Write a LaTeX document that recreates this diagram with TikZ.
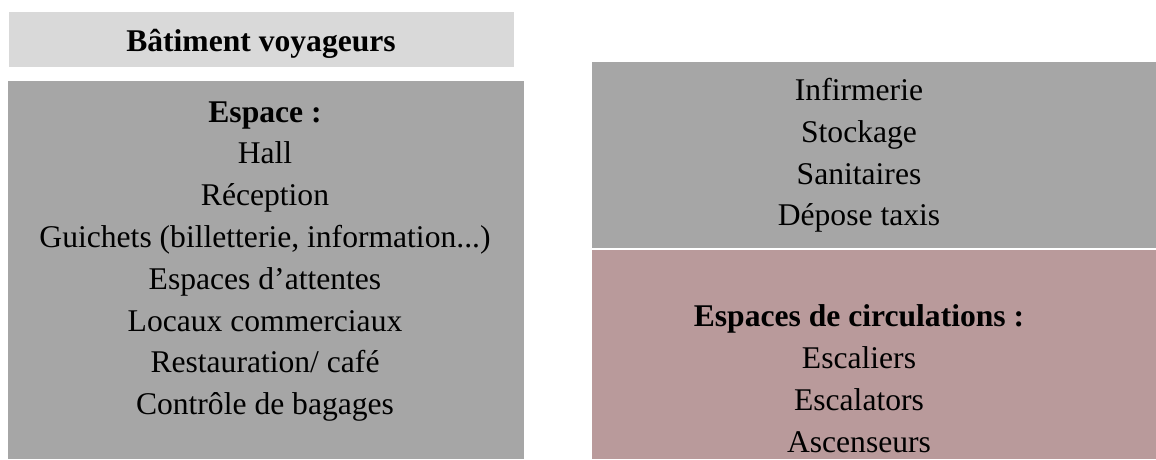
\documentclass[tikz,border=0pt]{standalone}
\usepackage{fontspec}
\setmainfont{Liberation Serif}
\definecolor{titlegray}{HTML}{D9D9D9}
\definecolor{boxgray}{HTML}{A6A6A6}
\definecolor{boxpink}{HTML}{B99A9B}
\tikzset{
  line/.style={anchor=base, inner sep=0pt, font=\fontsize{31.6}{37}\selectfont},
  head/.style={line, font=\fontsize{31.6}{37}\selectfont\bfseries},
}
\begin{document}
\begin{tikzpicture}[x=1pt,y=-1pt]
\useasboundingbox (0,0) rectangle (1156,459);
\begin{scope}
\clip (0,0) rectangle (1156,459);
% boxes
\fill[titlegray] (9,12) rectangle (514,67);
\fill[boxgray] (8,81) rectangle (524,459);
\fill[boxgray] (592,62) rectangle (1156,248);
\fill[boxpink] (592,250) rectangle (1156,459);
% title
\node[head] (title) at (261,51) {Bâtiment voyageurs};
% left box
\node[head] (l0) at (265,122) {Espace :};
\node[line] (l1) at (265,163.8) {Hall};
\node[line] (l2) at (265,205.6) {Réception};
\node[line] (l3) at (265,247.4) {Guichets (billetterie, information...)};
\node[line] (l4) at (265,289.2) {Espaces d’attentes};
\node[line] (l5) at (265,331) {Locaux commerciaux};
\node[line] (l6) at (265,372.8) {Restauration/ café};
\node[line] (l7) at (265,414.6) {Contrôle de bagages};
% right gray box
\node[line] (r1) at (859,100.5) {Infirmerie};
\node[line] (r2) at (859,142.3) {Stockage};
\node[line] (r3) at (859,184.1) {Sanitaires};
\node[line] (r4) at (859,225.9) {Dépose taxis};
% pink box
\node[head] (p0) at (859,326.6) {Espaces de circulations :};
\node[line] (p1) at (859,368.4) {Escaliers};
\node[line] (p2) at (859,410.2) {Escalators};
\node[line] (p3) at (859,452) {Ascenseurs};
\end{scope}
\end{tikzpicture}
\end{document}
